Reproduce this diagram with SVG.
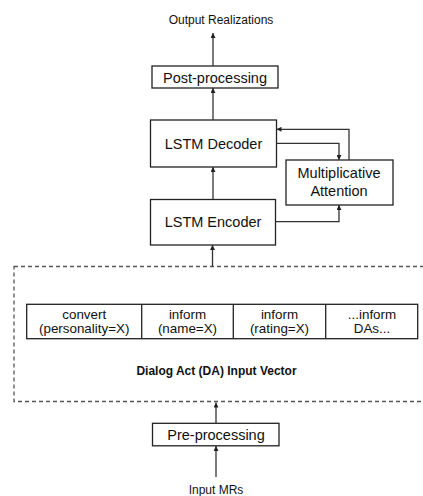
<svg xmlns="http://www.w3.org/2000/svg" width="423" height="496" viewBox="0 0 423 496">
<defs>
<marker id="ah" viewBox="0 0 10 10" refX="10" refY="5" markerWidth="5" markerHeight="5" orient="auto" markerUnits="userSpaceOnUse">
<path d="M0,0 L10,5 L0,10 z" fill="#222"/>
</marker>
<style>
.box{fill:#fff;stroke:#222;stroke-width:1.3}
.lbl{font-family:"Liberation Sans",Arial,sans-serif;font-size:14.5px;fill:#111;text-anchor:middle}
.cell{font-family:"Liberation Sans",Arial,sans-serif;font-size:13.4px;fill:#111;text-anchor:middle}
.sm{font-family:"Liberation Sans",Arial,sans-serif;font-size:12px;fill:#111;text-anchor:middle}
.bold{font-family:"Liberation Sans",Arial,sans-serif;font-size:12px;font-weight:bold;fill:#111;text-anchor:middle}
.conn{fill:none;stroke:#333;stroke-width:1.3;marker-end:url(#ah)}
.dash{fill:none;stroke:#555;stroke-width:1.3;stroke-dasharray:4 3}
</style>
</defs>
<g id="output"><text class="sm" x="221" y="24">Output Realizations</text></g>
<g id="post"><rect class="box" x="152" y="66" width="126" height="22"/><text class="lbl" x="215" y="82.5">Post-processing</text></g>
<g id="decoder"><rect class="box" x="150.5" y="120" width="126" height="47"/><text class="lbl" x="213.5" y="149">LSTM Decoder</text></g>
<g id="attention"><rect class="box" x="286" y="160" width="107" height="45"/><text class="lbl" x="339" y="178">Multiplicative</text><text class="lbl" x="339" y="196">Attention</text></g>
<g id="encoder"><rect class="box" x="150.5" y="199.5" width="125" height="45.5"/><text class="lbl" x="213" y="227">LSTM Encoder</text></g>
<g id="da-vector">
<rect class="dash" x="14" y="266.5" width="430" height="135"/>
<rect class="box" x="26.7" y="304.3" width="391" height="34.4"/>
<line x1="141.7" y1="304.3" x2="141.7" y2="338.7" stroke="#222" stroke-width="1.3"/>
<line x1="233.3" y1="304.3" x2="233.3" y2="338.7" stroke="#222" stroke-width="1.3"/>
<line x1="325.7" y1="304.3" x2="325.7" y2="338.7" stroke="#222" stroke-width="1.3"/>
<text class="cell" x="84.2" y="318.5">convert</text><text class="cell" x="84.2" y="333">(personality=X)</text>
<text class="cell" x="187.5" y="318.5">inform</text><text class="cell" x="187.5" y="333">(name=X)</text>
<text class="cell" x="279.5" y="318.5">inform</text><text class="cell" x="279.5" y="333">(rating=X)</text>
<text class="cell" x="372" y="318.5">...inform</text><text class="cell" x="372" y="333">DAs...</text>
<text class="bold" x="216.5" y="375">Dialog Act (DA) Input Vector</text>
</g>
<g id="pre"><rect class="box" x="152.5" y="423.3" width="126.5" height="22.5"/><text class="lbl" x="216" y="440">Pre-processing</text></g>
<g id="input"><text class="sm" x="216" y="494">Input MRs</text></g>
<g id="connectors">
<line class="conn" x1="213" y1="66" x2="213" y2="33"/>
<line class="conn" x1="213" y1="120" x2="213" y2="88"/>
<line class="conn" x1="213" y1="199.5" x2="213" y2="167"/>
<line class="conn" x1="212.5" y1="266.5" x2="212.5" y2="245"/>
<line class="conn" x1="216" y1="423.3" x2="216" y2="402.5"/>
<line class="conn" x1="216" y1="477" x2="216" y2="446"/>
<polyline class="conn" points="276.5,143.3 339,143.3 339,160"/>
<polyline class="conn" points="349,160 349,129.3 276.5,129.3"/>
<polyline class="conn" points="275.5,221.7 339,221.7 339,205"/>
</g>
</svg>
